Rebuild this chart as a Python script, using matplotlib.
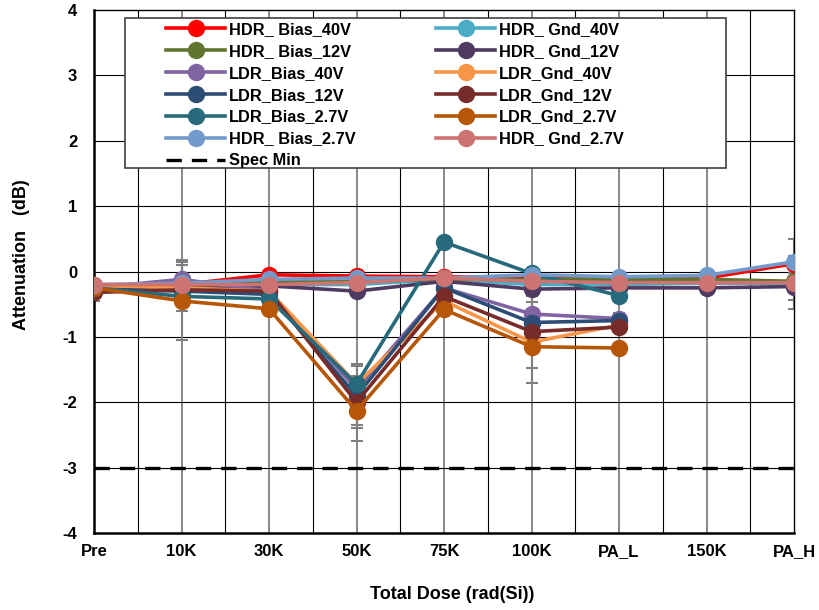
import matplotlib.pyplot as plt
from matplotlib.patches import Rectangle
import numpy as np

plt.rcParams['font.family'] = ['Liberation Sans', 'DejaVu Sans']
plt.rcParams['font.weight'] = 'bold'

# --- Data ---
categories = ["Pre", "10K", "30K", "50K", "75K", "100K", "PA_L", "150K", "PA_H"]
nan = np.nan

hdr_bias_40 = [-0.22, -0.20, -0.05, -0.07, -0.08, -0.10, -0.10, -0.10, 0.12]
hdr_gnd_40 = [-0.22, -0.22, -0.20, -0.20, -0.12, -0.20, -0.20, -0.18, -0.18]
hdr_bias_12 = [-0.25, -0.22, -0.15, -0.15, -0.12, -0.12, -0.12, -0.12, -0.15]
hdr_gnd_12 = [-0.28, -0.25, -0.22, -0.30, -0.15, -0.27, -0.25, -0.25, -0.23]
ldr_bias_40 = [-0.25, -0.12, -0.30, -1.80, -0.25, -0.65, -0.72, nan, nan]
ldr_gnd_40 = [-0.22, -0.25, -0.30, -1.72, -0.45, -1.08, -0.82, nan, nan]
ldr_bias_12 = [-0.27, -0.30, -0.35, -1.90, -0.25, -0.78, -0.75, nan, nan]
ldr_gnd_12 = [-0.32, -0.28, -0.30, -2.00, -0.38, -0.92, -0.85, nan, nan]
ldr_bias_27 = [-0.25, -0.38, -0.42, -1.72, 0.45, -0.03, -0.37, nan, nan]
ldr_gnd_27 = [-0.25, -0.45, -0.57, -2.13, -0.58, -1.15, -1.17, nan, nan]
hdr_bias_27 = [-0.20, -0.18, -0.12, -0.10, -0.10, -0.05, -0.08, -0.06, 0.15]
hdr_gnd_27 = [-0.20, -0.20, -0.20, -0.17, -0.10, -0.15, -0.17, -0.17, -0.17]

# error bar half-widths (only some series carry them)
err_hdr_bias_40 = [0, 0, 0.05, 0, 0, 0, 0, 0, 0]
err_hdr_gnd_12 = [0, 0, 0, 0, 0, 0, 0, 0, 0.20]
err_ldr_bias_40 = [0, 0.30, 0, 0, 0, 0, 0.09, 0, 0]
err_ldr_gnd_40 = [0, 0.35, 0, 0, 0, 0, 0, 0, 0]
err_ldr_bias_12 = [0, 0, 0, 0.45, 0, 0.31, 0, 0, 0]
err_ldr_gnd_12 = [0.13, 0, 0, 0.40, 0, 0.55, 0, 0, 0]
err_ldr_bias_27 = [0, 0, 0, 0.30, 0, 0, 0, 0, 0]
err_ldr_gnd_27 = [0, 0.60, 0, 0.47, 0, 0.55, 0, 0, 0]
err_hdr_bias_27 = [0, 0, 0, 0, 0, 0, 0, 0, 0.35]
err_hdr_gnd_27 = [0, 0, 0, 0, 0, 0, 0, 0, 0.40]
zeros = [0] * 9

spec_min = -3

series = [
    ("HDR_ Bias_40V", hdr_bias_40, err_hdr_bias_40, "#FF0000"),
    ("HDR_ Gnd_40V", hdr_gnd_40, zeros, "#4BACC6"),
    ("HDR_ Bias_12V", hdr_bias_12, zeros, "#5F7530"),
    ("HDR_ Gnd_12V", hdr_gnd_12, err_hdr_gnd_12, "#4F3B62"),
    ("LDR_Bias_40V", ldr_bias_40, err_ldr_bias_40, "#8064A2"),
    ("LDR_Gnd_40V", ldr_gnd_40, err_ldr_gnd_40, "#F79646"),
    ("LDR_Bias_12V", ldr_bias_12, err_ldr_bias_12, "#2C4D75"),
    ("LDR_Gnd_12V", ldr_gnd_12, err_ldr_gnd_12, "#772C2A"),
    ("LDR_Bias_2.7V", ldr_bias_27, err_ldr_bias_27, "#276A7C"),
    ("LDR_Gnd_2.7V", ldr_gnd_27, err_ldr_gnd_27, "#B65708"),
    ("HDR_ Bias_2.7V", hdr_bias_27, err_hdr_bias_27, "#729ACA"),
    ("HDR_ Gnd_2.7V", hdr_gnd_27, err_hdr_gnd_27, "#CD7371"),
]

# --- Plot ---
fig = plt.figure(figsize=(8.19, 6.10), dpi=100)
ax = fig.add_axes([0.1148, 0.1262, 0.8547, 0.8574])
x = np.arange(len(categories))

# grid: black at mid points, gray at categories, black horizontals
for xv in np.arange(0.5, len(categories) - 1, 1.0):
    ax.axvline(xv, color="black", lw=0.8, zorder=0)
for xv in x[1:-1]:
    ax.axvline(xv, color="#808080", lw=1.3, zorder=0)
for yv in range(-3, 4):
    ax.axhline(yv, color="black", lw=0.8, zorder=0)

handles = {}
for name, vals, err, col in series:
    vals = np.array(vals, dtype=float)
    err = np.array(err, dtype=float)
    mask = err > 0
    if mask.any():
        ax.errorbar(x[mask], vals[mask], yerr=err[mask], fmt="none", ecolor="#7F7F7F",
                    elinewidth=1.5, capsize=4, capthick=1.5, zorder=2)
    h, = ax.plot(x, vals, color=col, lw=2.6, marker="o", markersize=11.5, zorder=3)
    handles[name] = h

hs, = ax.plot([x[0], x[-1]], [spec_min, spec_min], color="black", lw=2.4,
              linestyle=(0, (4.6, 3.0)), zorder=2)
handles["Spec Min"] = hs

ax.set_xlim(0, len(categories) - 1)
ax.set_ylim(-4, 4)
ax.set_xticks(x)
ax.set_xticklabels(categories, fontsize=12, fontweight="bold")
ax.set_yticks(range(-4, 5))
ax.set_yticklabels([str(v) for v in range(-4, 5)], fontsize=12, fontweight="bold")
ax.tick_params(axis="y", length=0, pad=12)
ax.tick_params(axis="x", length=0, pad=8)

for s in ["left", "bottom"]:
    ax.spines[s].set_linewidth(1.8)
for s in ["top", "right"]:
    ax.spines[s].set_linewidth(1.0)

ax.set_xlabel("Total Dose (rad(Si))", fontsize=13, fontweight="bold")
ax.set_ylabel("Attenuation   (dB)", fontsize=13, fontweight="bold")
ax.xaxis.set_label_coords(0.511, -0.101)
ax.yaxis.set_label_coords(-0.091, 0.533)

# legend frame drawn separately (content sits off-centre in the reference)
frame = Rectangle((125 / 819, 1 - 168 / 610), 601 / 819, 150 / 610,
                  transform=fig.transFigure, facecolor="white", edgecolor="#404040",
                  lw=1.2, zorder=4)
ax.add_patch(frame)
frame.set_clip_on(False)

order = ["HDR_ Bias_40V", "HDR_ Bias_12V", "LDR_Bias_40V", "LDR_Bias_12V", "LDR_Bias_2.7V",
         "HDR_ Bias_2.7V", "Spec Min", "HDR_ Gnd_40V", "HDR_ Gnd_12V", "LDR_Gnd_40V",
         "LDR_Gnd_12V", "LDR_Gnd_2.7V", "HDR_ Gnd_2.7V"]
leg = ax.legend([handles[k] for k in order], order, ncol=2, loc="upper left",
                bbox_to_anchor=(166 / 819, 1 - 22 / 610), bbox_transform=fig.transFigure,
                frameon=False, handlelength=3.6, labelspacing=0.42, borderaxespad=0,
                borderpad=0, handletextpad=0.25, columnspacing=4.9,
                prop={"weight": "bold", "size": 11.8})
leg.set_zorder(5)

fig.savefig("out.png", dpi=100)
